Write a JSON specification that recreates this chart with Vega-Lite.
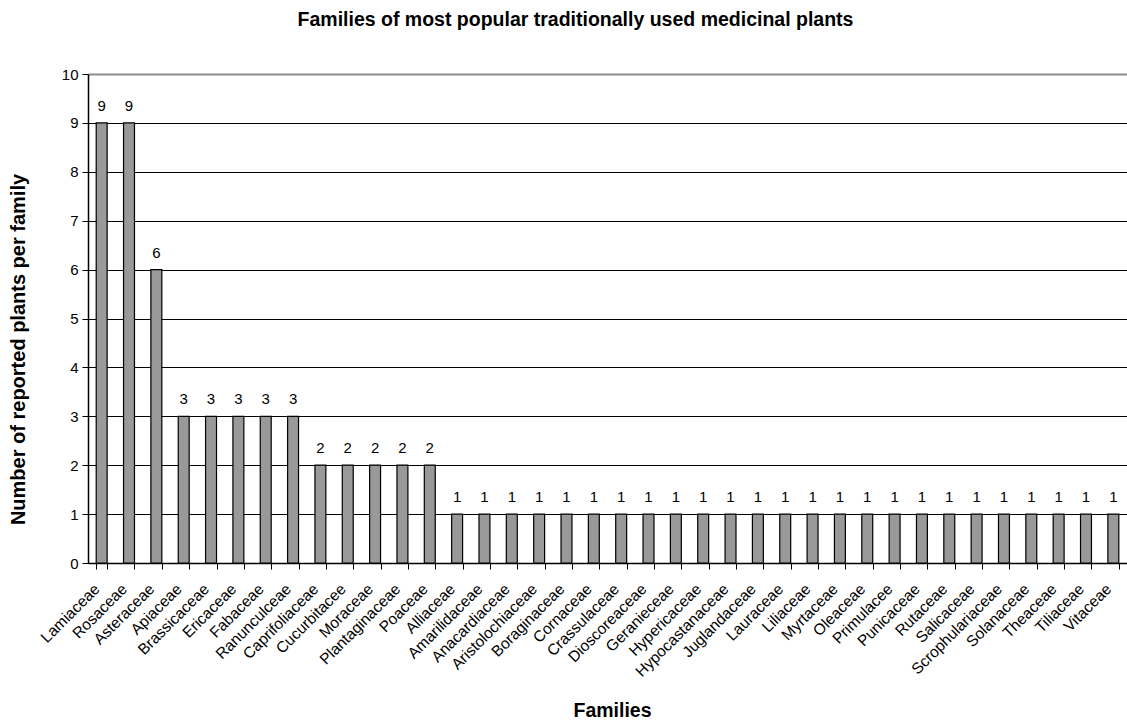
{
  "$schema": "https://vega.github.io/schema/vega-lite/v6.json",
  "autosize": "none",
  "width": 1039,
  "height": 489,
  "padding": {"left": 88, "top": 74, "right": 0, "bottom": 160},
  "background": "white",
  "config": {
    "font": "Liberation Sans",
    "view": {"stroke": null}
  },
  "title": {
    "text": "Families of most popular traditionally used medicinal plants",
    "font": "Liberation Sans",
    "fontSize": 19.5,
    "fontWeight": "bold",
    "color": "black",
    "anchor": "middle",
    "dx": -32,
    "offset": 37
  },
  "data": {
    "values": [
      {"family": "Lamiaceae", "plants": 9},
      {"family": "Rosaceae", "plants": 9},
      {"family": "Asteraceae", "plants": 6},
      {"family": "Apiaceae", "plants": 3},
      {"family": "Brassicaceae", "plants": 3},
      {"family": "Ericaceae", "plants": 3},
      {"family": "Fabaceae", "plants": 3},
      {"family": "Ranunculceae", "plants": 3},
      {"family": "Caprifoliaceae", "plants": 2},
      {"family": "Cucurbitacee", "plants": 2},
      {"family": "Moraceae", "plants": 2},
      {"family": "Plantaginaceae", "plants": 2},
      {"family": "Poaceae", "plants": 2},
      {"family": "Alliaceae", "plants": 1},
      {"family": "Amarilidaceae", "plants": 1},
      {"family": "Anacardiaceae", "plants": 1},
      {"family": "Aristolochiaceae", "plants": 1},
      {"family": "Boraginaceae", "plants": 1},
      {"family": "Cornaceae", "plants": 1},
      {"family": "Crassulaceae", "plants": 1},
      {"family": "Dioscoreaceae", "plants": 1},
      {"family": "Geranieceae", "plants": 1},
      {"family": "Hypericaceae", "plants": 1},
      {"family": "Hypocastanaceae", "plants": 1},
      {"family": "Juglandaceae", "plants": 1},
      {"family": "Lauraceae", "plants": 1},
      {"family": "Liliaceae", "plants": 1},
      {"family": "Myrtaceae", "plants": 1},
      {"family": "Oleaceae", "plants": 1},
      {"family": "Primulacee", "plants": 1},
      {"family": "Punicaceae", "plants": 1},
      {"family": "Rutaceae", "plants": 1},
      {"family": "Salicaceae", "plants": 1},
      {"family": "Scrophulariaceae", "plants": 1},
      {"family": "Solanaceae", "plants": 1},
      {"family": "Theaceae", "plants": 1},
      {"family": "Tiliaceae", "plants": 1},
      {"family": "Vitaceae", "plants": 1}
    ]
  },
  "encoding": {
    "x": {
      "field": "family",
      "type": "nominal",
      "sort": null,
      "scale": {"paddingInner": 0.6, "paddingOuter": 0.3},
      "axis": {
        "title": "Families",
        "titleFont": "Liberation Sans",
        "titleFontSize": 19.5,
        "titleFontWeight": "bold",
        "titleColor": "black",
        "titleX": 524,
        "titleY": 147,
        "titleBaseline": "middle",
        "titleAlign": "center",
        "labelAngle": -45,
        "labelAlign": "right",
        "labelBaseline": "middle",
        "labelPadding": 17,
        "labelOffset": -5,
        "labelFont": "Liberation Sans",
        "labelFontSize": 15.5,
        "labelColor": "black",
        "labelOverlap": false,
        "tickBand": "extent",
        "tickSize": 6,
        "tickColor": "black",
        "domainColor": "black",
        "domainWidth": 1.5,
        "grid": false
      }
    },
    "y": {
      "field": "plants",
      "type": "quantitative",
      "scale": {"domain": [0, 10], "nice": false},
      "axis": {
        "title": "Number of reported plants per family",
        "titleFont": "Liberation Sans",
        "titleFontSize": 20,
        "titleFontWeight": "bold",
        "titleColor": "black",
        "titleAngle": -90,
        "titleX": -70,
        "titleY": 275,
        "titleAlign": "center",
        "titleBaseline": "middle",
        "values": [0, 1, 2, 3, 4, 5, 6, 7, 8, 9, 10],
        "labelFont": "Liberation Sans",
        "labelFontSize": 15,
        "labelColor": "black",
        "labelPadding": 4,
        "tickSize": 6,
        "tickColor": "black",
        "domainColor": "black",
        "domainWidth": 1.5,
        "grid": true,
        "gridColor": {"condition": {"test": "datum.value === 10", "value": "#8c8c8c"}, "value": "black"},
        "gridWidth": {"condition": {"test": "datum.value === 10", "value": 2}, "value": 1},
        "gridOpacity": 1
      }
    }
  },
  "layer": [
    {
      "mark": {"type": "bar", "fill": "#999999", "stroke": "black", "strokeWidth": 1.2}
    },
    {
      "mark": {
        "type": "text",
        "baseline": "alphabetic",
        "dy": -12,
        "font": "Liberation Sans",
        "fontSize": 15,
        "color": "black"
      },
      "encoding": {"text": {"field": "plants", "type": "quantitative"}}
    }
  ]
}
